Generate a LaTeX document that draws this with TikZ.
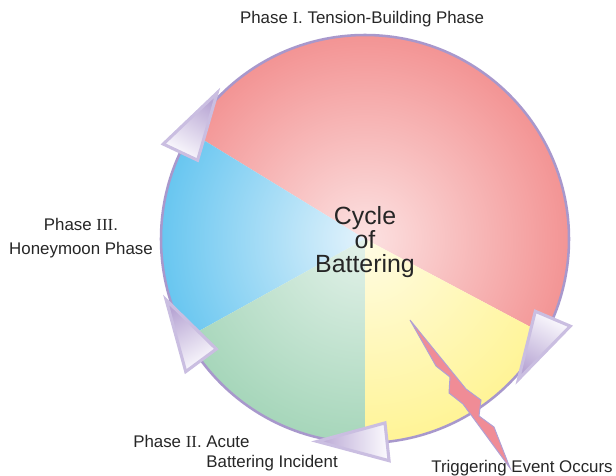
\documentclass[tikz,border=0pt]{standalone}
\usepackage{fontspec}
\setmainfont{Liberation Sans}
\newfontfamily\numfont{Liberation Serif}
\usetikzlibrary{calc}

\definecolor{redin}{RGB}{252,226,226}
\definecolor{redout}{RGB}{243,148,148}
\definecolor{bluein}{RGB}{228,243,252}
\definecolor{blueout}{RGB}{104,198,240}
\definecolor{greenin}{RGB}{228,242,234}
\definecolor{greenout}{RGB}{166,214,186}
\definecolor{yellowin}{RGB}{255,252,228}
\definecolor{yellowout}{RGB}{255,244,150}
\definecolor{rimlav}{RGB}{168,152,204}
\definecolor{arrowlav}{RGB}{202,190,225}
\definecolor{arrowdark}{RGB}{184,166,212}
\definecolor{arrowlight}{RGB}{252,251,254}
\definecolor{boltpink}{RGB}{240,140,150}
\definecolor{boltlav}{RGB}{176,160,212}

\begin{document}
\begin{tikzpicture}[
  x=0.025cm, y=0.025cm,
  font=\fontsize{12}{17}\selectfont,
  rim/.style={draw=rimlav, line width=1.8pt},
  arrowtri/.style={draw=arrowlav, line width=2.2pt, line join=miter, left color=arrowdark, right color=arrowlight},
  bolt/.style={fill=boltpink, draw=boltlav, line width=0.7pt, line join=miter},
  phase/.style={inner sep=0pt, align=center, text=black!85}
]
\useasboundingbox (-365,-236) rectangle (251,239);

\def\R{204}

% sectors of the cycle
\foreach \a/\b/\cin/\cout in {-28/148.5/redin/redout, 148.5/209/bluein/blueout, 209/270/greenin/greenout, 270/332/yellowin/yellowout} {
  \begin{scope}
    \clip (0,0) -- (\a:\R+5) arc[start angle=\a, end angle=\b, radius=\R+5] -- cycle;
    \shade[inner color=\cin, outer color=\cout] (0,0) circle (\R);
  \end{scope}
}
\draw[rim] (0,0) circle (\R);

% arrows on the rim
\foreach \t in {154.8,-23,-83.8,216.5} {
  \pgfmathsetmacro\sa{\t-186}
  \shadedraw[arrowtri, shading angle=\sa] (\t:185) -- (\t:223) -- (\t-19.5:208) -- cycle;
}

% trigger bolt
\draw[bolt] (45,-81) -- (71,-127) -- (85,-138) -- (84,-154) -- (98,-165) -- (145,-229)
  -- (129,-188) -- (114,-177) -- (116,-161) -- (101,-150) -- cycle;

\node[phase, font=\fontsize{17.7}{17}\selectfont] (cycle) at (0,-3) {Cycle\\of\\Battering};
\node[phase, anchor=base] (tension) at (-3,215) {Phase {\numfont I}. Tension-Building Phase};
\node[phase] (honey) at (-284,1) {Phase {\numfont III}.\\Honeymoon Phase};
\node[phase, align=left, anchor=west, font=\fontsize{12}{14.2}\selectfont] (acute) at (-232,-214)
  {Phase {\numfont II}. Acute\\\hspace*{52pt}Battering Incident};
\node[phase, anchor=base] (trigger) at (157,-233) {Triggering Event Occurs};

\end{tikzpicture}
\end{document}
